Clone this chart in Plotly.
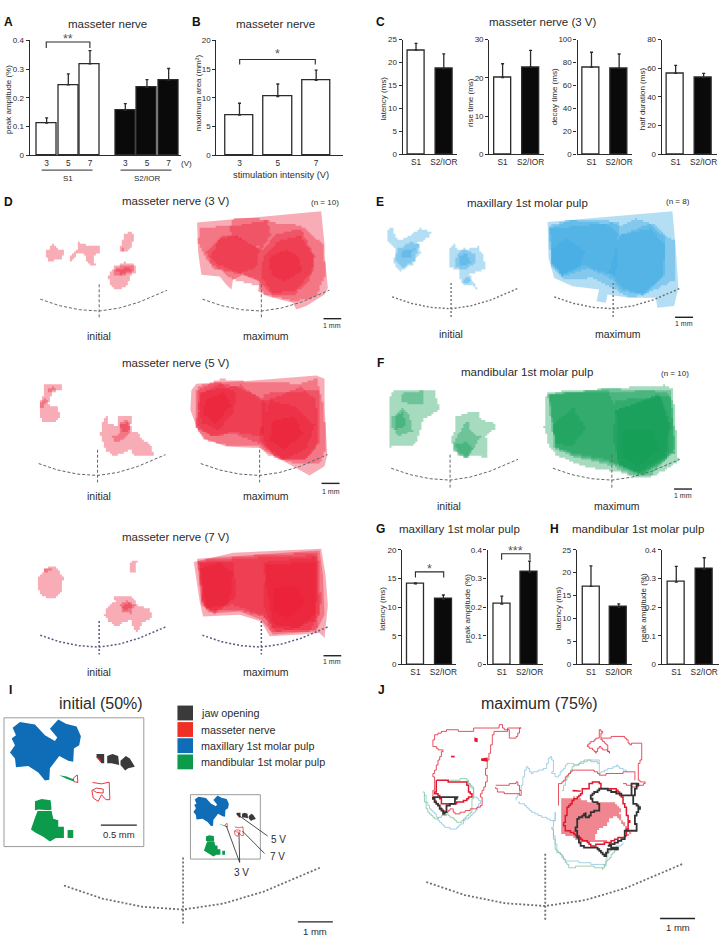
import plotly.graph_objects as go

W, H = 725, 944
RED = "rgba(235,25,50,0.36)"
BLUE = "rgba(55,168,225,0.38)"
GREEN = "rgba(12,155,80,0.36)"
INK = "#2b2b2b"

# bar data: values and upper error lengths
a_labels = ["3", "5", "7", "3", "5", "7"]
a_vals = [0.112, 0.245, 0.318, 0.156, 0.236, 0.262]
a_errs = [0.018, 0.038, 0.046, 0.024, 0.027, 0.040]
b_labels = ["3", "5", "7"]
b_vals = [7.0, 10.2, 13.05]
b_errs = [2.05, 2.2, 1.75]
pair_labels = ["S1", "S2/IOR"]
c1_vals = [22.7, 18.7]
c1_errs = [1.5, 3.2]
c2_vals = [20.1, 22.8]
c2_errs = [3.6, 4.4]
c3_vals = [76, 75]
c3_errs = [13, 12.5]
c4_vals = [56.5, 53.5]
c4_errs = [5.5, 3.0]
g1_vals = [14.05, 11.4]
g1_errs = [0.15, 0.7]
g2_vals = [0.21, 0.322]
g2_errs = [0.028, 0.038]
h1_vals = [17.0, 12.5]
h1_errs = [4.5, 0.7]
h2_vals = [0.287, 0.332]
h2_errs = [0.055, 0.04]

# outlines of the maps as (x, y) in 3x crop coordinates
D3_INIT = [
    [(140,175),(150,172),(155,158),(170,170),(190,180),(188,205),(150,208),(137,190)],
    [(208,190),(232,172),(232,152),(260,160),(298,165),(300,185),(282,192),(285,225),(262,208),(258,190),(235,185),(215,210)],
    [(360,175),(365,150),(375,125),(390,118),(403,130),(398,160),(385,178),(368,182)],
    [(325,250),(340,225),(370,212),(410,222),(405,245),(390,260),(385,285),(350,295),(330,275)],
    [(342,232),(370,222),(408,225),(400,240),(380,252),(345,252)],
    [(350,235),(385,228),(395,240),(365,250)],
    [(358,172),(378,168),(370,180)],
]
D3_MAX = [
    [(592,92),(815,72),(835,70),(965,58),(975,160),(975,190),(985,290),(975,310),(920,345),(890,355),(880,335),(805,315),(775,300),(780,270),(730,250),(700,265),(695,295),(680,280),(660,255),(605,250),(595,180)],
    [(600,110),(690,100),(700,78),(800,82),(830,95),(900,100),(970,160),(978,250),(950,320),(880,330),(800,310),(780,285),(700,265),(620,200),(595,150)],
    [(660,135),(700,130),(790,175),(820,130),(900,110),(945,200),(930,270),(890,310),(820,312),(780,270),(740,250),(640,230),(620,180)],
    [(690,105),(800,85),(815,130),(790,170),(700,130)],
    [(790,200),(830,150),(900,130),(940,190),(940,240),(890,300),(820,305),(785,250)],
    [(810,195),(860,175),(900,200),(905,240),(860,270),(815,250)],
    [(660,140),(700,130),(780,175),(770,230),(720,245),(660,220),(630,190)],
]
D5_INIT = [
    [(120,165),(135,105),(160,100),(185,105),(185,120),(160,125),(145,165),(170,170),(182,205),(165,215),(130,215),(118,190)],
    [(142,115),(160,108),(165,120),(150,128)],
    [(122,155),(132,143),(145,155),(135,172),(115,172)],
    [(305,215),(320,195),(325,220),(355,230),(355,195),(375,195),(400,195),(390,240),(420,255),(420,265),(455,295),(460,315),(405,320),(395,300),(350,320),(320,300),(310,275),(302,250)],
    [(335,260),(360,250),(360,215),(385,210),(395,240),(380,265),(350,280)],
    [(362,225),(382,215),(390,240),(375,250)],
]
D5_MAX = [
    [(590,100),(740,92),(950,75),(975,85),(975,170),(983,315),(975,350),(930,378),(880,350),(780,295),(680,290),(610,265),(590,230),(572,180),(575,120)],
    [(595,110),(660,85),(745,95),(900,100),(950,85),(972,170),(980,300),(960,340),(880,340),(820,320),(780,290),(700,290),(620,270),(590,230)],
    [(590,120),(650,95),(710,110),(800,150),(900,110),(950,150),(955,280),(920,330),(850,330),(780,280),(700,250),(640,260),(590,230)],
    [(600,125),(720,105),(800,160),(790,260),(700,245),(640,260),(595,225)],
    [(790,130),(960,120),(960,280),(920,330),(840,330),(780,270)],
    [(600,130),(660,100),(710,130),(700,190),(660,240),(610,220),(595,170)],
    [(810,150),(880,170),(945,230),(920,300),(850,330),(800,280),(785,240)],
    [(820,210),(880,200),(910,250),(860,300),(810,270)],
    [(620,150),(670,125),(695,170),(650,220),(610,190)],
]
D7_INIT = [
    [(115,685),(135,660),(165,655),(190,690),(185,730),(165,750),(130,745),(112,715)],
    [(135,660),(150,650),(158,668),(135,670)],
    [(390,640),(405,635),(415,630),(412,640),(405,670),(390,670)],
    [(320,780),(345,755),(340,742),(395,745),(410,770),(450,785),(458,810),(430,825),(415,850),(395,830),(395,815),(355,835),(325,815),(315,795)],
    [(360,770),(380,755),(405,775),(395,795),(370,790)],
    [(368,772),(382,762),(398,778),(378,788)],
]
D7_MAX = [
    [(582,640),(700,612),(965,600),(978,680),(985,770),(975,870),(960,855),(905,860),(810,865),(785,820),(720,800),(610,805),(600,760)],
    [(592,630),(830,615),(960,605),(970,680),(975,800),(950,850),(820,860),(785,815),(720,790),(640,795),(605,770)],
    [(596,635),(800,618),(955,612),(965,760),(950,845),(830,850),(795,805),(720,785),(625,790),(608,750)],
    [(600,640),(800,625),(950,620),(960,800),(930,850),(820,850),(790,800),(700,770),(620,780)],
    [(595,645),(700,640),(710,750),(650,790),(610,770)],
    [(790,640),(955,625),(950,800),(900,840),(820,830)],
    [(600,660),(660,640),(700,680),(690,760),(650,795),(610,770)],
    [(800,650),(950,640),(945,820),(880,845),(820,840),(790,760)],
    [(820,720),(880,710),(915,760),(870,810),(825,790)],
]
E_INIT = [
    [(85,115),(100,105),(105,130),(115,145),(150,130),(180,110),(215,125),(210,135),(175,155),(185,185),(160,220),(125,240),(100,210),(110,170),(85,145)],
    [(115,170),(150,150),(180,160),(165,210),(130,230),(105,205)],
    [(130,175),(165,170),(155,195),(125,200)],
    [(270,170),(280,155),(295,175),(330,170),(355,165),(370,190),(380,235),(330,250),(345,280),(355,293),(340,283),(320,280),(305,275),(300,235),(268,225),(268,205)],
    [(285,195),(310,170),(345,190),(350,215),(315,240),(285,220)],
    [(295,195),(320,185),(335,215),(305,225)],
    [(310,262),(330,258),(335,272),(315,278)],
]
E_MAX = [
    [(565,90),(940,58),(950,170),(958,290),(945,345),(895,350),(890,320),(810,320),(745,310),(740,335),(712,330),(720,295),(640,285),(585,260),(568,200)],
    [(570,100),(640,82),(735,82),(780,105),(830,80),(890,100),(920,130),(945,150),(945,270),(880,300),(820,320),(760,290),(700,260),(620,265),(575,220)],
    [(570,110),(630,85),(740,95),(780,130),(870,95),(920,140),(915,260),(860,310),(790,300),(760,265),(680,220),(610,250),(578,210)],
    [(572,110),(780,90),(770,250),(690,230),(610,255),(578,215)],
    [(575,170),(620,140),(680,180),(660,230),(610,250),(578,210)],
    [(780,130),(870,110),(920,160),(910,260),(850,310),(790,290),(750,240)],
]
F_INIT = [
    [(88,155),(100,120),(225,118),(240,180),(190,210),(185,240),(170,285),(90,292)],
    [(125,130),(190,120),(190,165),(150,160),(130,155)],
    [(95,200),(125,175),(150,200),(160,245),(120,258),(100,235)],
    [(105,195),(130,185),(140,230),(110,240)],
    [(290,200),(320,190),(355,185),(365,210),(410,222),(405,240),(380,260),(385,325),(345,315),(320,325),(285,305),(275,265),(290,230)],
    [(305,240),(325,200),(330,240),(365,265),(340,300),(330,325),(285,300),(280,280)],
    [(290,285),(320,275),(340,300),(325,325),(295,315)],
]
F_MAX = [
    [(560,135),(745,115),(910,105),(940,115),(950,220),(955,325),(960,335),(890,380),(835,385),(780,365),(720,360),(660,345),(590,315),(570,290),(555,230)],
    [(565,125),(750,115),(920,125),(940,160),(950,300),(880,375),(820,380),(770,350),(640,320),(585,295)],
    [(568,130),(935,120),(948,310),(860,375),(780,345),(640,315),(590,290)],
    [(770,150),(935,135),(945,310),(850,375),(775,340)],
    [(570,130),(745,118),(770,180),(900,130),(935,220),(925,330),(840,375),(780,350),(750,330),(640,310),(590,290)],
    [(770,180),(900,135),(930,230),(920,320),(840,370),(780,345),(760,260)],
    [(790,240),(880,240),(900,300),(840,350),(790,320)],
    [(580,220),(640,170),(680,240),(640,290),(590,280)],
]

I_BLUE = [(38,182),(60,165),(105,172),(135,205),(165,222),(172,212),(150,185),(175,157),(198,170),(230,178),(243,208),(238,235),(222,245),(220,285),(205,282),(178,268),(150,305),(148,340),(135,342),(115,318),(85,298),(48,302),(45,275),(30,257),(45,235),(35,215),(48,205)]
I_GREEN = [
    [(105,405),(125,398),(152,402),(155,430),(148,432),(115,430),(105,432)],
    [(113,434),(155,434),(160,458),(175,462),(175,482),(192,482),(192,516),(168,516),(150,527),(130,512),(107,500),(93,490),(105,455)],
    [(203,492),(220,492),(220,516),(203,516)],
    [(178,326),(200,330),(220,338),(222,345),(200,337)],
]
I_BLACK = [
    [(290,262),(313,262),(313,290),(305,290),(290,272)],
    [(322,268),(338,262),(355,268),(358,295),(335,290),(322,290)],
    [(362,282),(378,268),(390,275),(405,300),(385,305),(376,312),(362,295)],
]
I_RED_FILL = [(290,268),(305,282),(300,284)]
I_RED_LINES = [
    [(220,335),(232,325),(234,348),(222,345),(220,335)],
    [(278,348),(305,352),(328,347),(330,400),(318,400),(305,385),(295,405),(280,395),(276,372),(290,365),(310,368),(310,380),(290,378),(280,372)],
]

J_PINK = [(607,398),(640,392),(690,408),(760,408),(785,435),(780,445),(800,480),(815,505),(780,520),(720,530),(670,530),(640,512),(608,500)]
J_WHITE = [(715,490),(740,480),(750,455),(770,452),(800,490),(810,505),(780,520),(720,525),(705,525)]
J_RED_THIN = [
    [(225,205),(265,187),(335,195),(345,185),(388,182),(415,185),(420,175),(435,190),(445,185),(485,185),(472,212),(448,212),(448,190),(412,195),(400,210),(395,245),(388,275),(378,320),(385,340),(365,390),(370,420),(340,430),(290,445),(280,430),(262,440),(240,420),(222,390),(225,340),(222,320),(250,250),(220,235),(225,205)],
    [(408,358),(445,355),(475,345),(485,385),(440,380),(420,378),(408,360)],
    [(720,190),(733,192),(725,212),(790,210),(810,232),(845,228),(850,268),(838,300),(838,340),(857,352),(830,362),(790,350)],
    [(720,190),(718,212),(685,240),(710,262),(720,240),(750,258),(745,235),(725,212)],
    [(600,420),(600,350),(640,310),(700,310),(720,325),(770,320),(825,315),(825,340)],
]
J_BLUE = [
    [(195,380),(205,420),(225,445),(250,480),(285,490),(310,465),(345,440),(365,400),(345,385),(340,360),(320,340)],
    [(470,400),(490,350),(500,300),(515,320),(560,305),(565,285),(572,268),(582,285),(580,320),(590,330),(610,310),(625,290),(650,295),(690,280),(720,280),(720,320),(770,295),(800,315)],
    [(475,405),(500,425),(540,450),(585,465),(590,440),(580,490),(595,560),(620,585),(670,590),(740,600),(745,560),(790,530)],
]
J_GREEN = [
    [(192,378),(200,430),(225,460),(260,445),(300,470),(335,440),(345,360),(320,338),(265,340)],
    [(580,490),(590,550),(630,605),(690,600),(730,610),(745,580),(770,550)],
    [(610,370),(620,340),(640,300),(680,278),(720,290)],
]
J_RED_THICK = [
    [(615,470),(625,425),(640,400),(670,380),(670,365),(690,365),(690,350),(720,345),(725,365),(740,365),(775,370),(790,400),(800,430),(810,470),(800,510),(750,530),(700,540),(660,510),(620,490),(615,470)],
    [(230,340),(280,345),(320,345),(330,375),(340,392),(310,405),(290,410),(250,410),(240,385),(228,375),(230,340)],
]
J_BLACK = [
    [(700,405),(695,385),(720,365),(745,370),(785,385),(820,385),(815,352),(838,352),(825,385),(822,410),(843,428),(825,460),(835,495),(810,495),(795,495),(795,520),(770,530),(745,540),(775,548),(745,552),(740,570),(720,548),(680,545),(665,540),(650,490),(655,460),(680,440),(680,455),(695,440),(720,430),(722,410),(700,405)],
    [(220,392),(295,392),(285,412),(265,420),(258,445),(240,420),(220,392)],
]
J_RED_BITS = [
    [(345,212),(355,214),(355,226),(345,224)],
    [(275,267),(286,267),(286,272),(275,272)],
    [(365,275),(385,272),(385,285),(365,282)],
    [(640,370),(665,372),(665,376),(640,375)],
]

ARC_SHAPE = [(-59,-12),(-40,-5.5),(-20,-1.4),(0,0),(20,-3),(40,-9),(68,-21)]

fig = go.Figure()
layout_axes = {}
notes = []
axis_no = [1]


def note(x, y, text, size=8, color=INK, bold=False, angle=0, anchor="center"):
    if bold:
        text = f"<b>{text}</b>"
    notes.append(dict(x=x / W, y=1 - y / H, xref="paper", yref="paper", text=text, showarrow=False,
                      font=dict(family="Liberation Sans", size=size, color=color), textangle=angle,
                      xanchor=anchor, yanchor="middle"))


def page_line(xs, ys, color=INK, width=1.0, dash="solid"):
    fig.add_trace(go.Scatter(x=xs, y=ys, mode="lines", line=dict(color=color, width=width, dash=dash),
                             hoverinfo="skip", showlegend=False, xaxis="x", yaxis="y"))


def page_fill(xs, ys, color):
    fig.add_trace(go.Scatter(x=xs, y=ys, mode="lines", fill="toself", fillcolor=color, line=dict(width=0),
                             hoverinfo="skip", showlegend=False, xaxis="x", yaxis="y"))


def crop(points, ox, oy):
    return [ox + p[0] / 3 for p in points], [oy + p[1] / 3 for p in points]


def stairs(xs, ys, grid):
    # the maps are pixel images, so walk each edge along a coarse pixel grid
    out_x, out_y = [], []
    for i in range(len(xs) - 1):
        dx, dy = xs[i + 1] - xs[i], ys[i + 1] - ys[i]
        n = max(1, int(max(abs(dx), abs(dy)) / grid))
        for k in range(n + 1):
            sx = round((xs[i] + dx * k / n) / grid) * grid
            sy = round((ys[i] + dy * k / n) / grid) * grid
            if out_x and out_x[-1] != sx and out_y[-1] != sy:
                out_x.append(sx)
                out_y.append(out_y[-1])
            out_x.append(sx)
            out_y.append(sy)
    return out_x, out_y


def layers(polys, ox, oy, color, straight=0, grid=2.0):
    for i, p in enumerate(polys):
        xs, ys = crop(p + p[:1], ox, oy)
        if i >= straight:
            xs, ys = stairs(xs, ys, grid)
        page_fill(xs, ys, color)


def jag_line(points, color, width, grid=1.7):
    xs, ys = crop(points, 360, 670)
    xs, ys = stairs(xs, ys, grid)
    page_line(xs, ys, color, width)


def baseline(cx, cy, scale, top, bottom, color="#666", width=1.0, dash="3px,2px"):
    page_line([cx + p[0] * scale for p in ARC_SHAPE], [cy + p[1] * scale for p in ARC_SHAPE], color, width, dash)
    page_line([cx, cx], [top, bottom], color, width, dash)


def scale_bar(x0, x1, y, label, ty, size=7):
    page_line([x0, x1], [y, y], "#222", 1.4)
    note((x0 + x1) / 2, ty, label, size)


def bars(rect, first, step, width, slots, vals, errs, labels, fills, ymax, yticks):
    left, right, top, bottom = rect
    axis_no[0] += 1
    n = axis_no[0]
    xs = [(first - left) / step + s for s in slots]
    fig.add_trace(go.Bar(x=xs, y=vals, width=width / step, xaxis=f"x{n}", yaxis=f"y{n}",
                         marker=dict(color=fills, line=dict(color=INK, width=1.3)),
                         error_y=dict(type="data", symmetric=False, array=errs, arrayminus=[0] * len(errs),
                                      color=INK, thickness=1.3, width=1.5),
                         hoverinfo="skip", showlegend=False))
    layout_axes[f"xaxis{n}"] = dict(domain=[left / W, right / W], range=[0, (right - left) / step], anchor=f"y{n}",
                                    tickvals=xs, ticktext=labels, ticks="", showgrid=False, zeroline=False,
                                    showline=True, linecolor=INK, linewidth=1.3,
                                    tickfont=dict(family="Liberation Sans", size=8.3, color=INK))
    layout_axes[f"yaxis{n}"] = dict(domain=[1 - bottom / H, 1 - top / H], range=[0, ymax], anchor=f"x{n}",
                                    tickvals=yticks, ticktext=[str(t) for t in yticks], ticks="outside", ticklen=3,
                                    tickwidth=1.2, tickcolor=INK, showgrid=False, zeroline=False,
                                    showline=True, linecolor=INK, linewidth=1.3,
                                    tickfont=dict(family="Liberation Sans", size=8, color=INK))


def bracket(x0, x1, top, drop, star_y, stars_text):
    page_line([x0, x0, x1, x1], [drop, top, top, drop], INK, 1.1)
    note((x0 + x1) / 2, star_y + 2, stars_text, 12.5, "#555555")


WHITE_BLACK = ["white", "#0a0a0a"]
bars((29.7, 181.7, 36.7, 152.7), 46.7, 21.7, 20, [0, 1, 2, 3.63, 4.63, 5.63], a_vals, a_errs, a_labels,
     ["white"] * 3 + ["#0a0a0a"] * 3, 0.4, [0, 0.1, 0.2, 0.3, 0.4])
bars((216.7, 343, 36.7, 152.7), 239.8, 38.4, 28.5, [0, 1, 2], b_vals, b_errs, b_labels, ["white"] * 3, 20, [0, 5, 10, 15, 20])
bars((403.3, 458, 36, 151.7), 416.6, 27.8, 17, [0, 1], c1_vals, c1_errs, pair_labels, WHITE_BLACK, 25, [0, 5, 10, 15, 20, 25])
bars((490, 545, 36, 151.7), 503.3, 28, 17, [0, 1], c2_vals, c2_errs, pair_labels, WHITE_BLACK, 30, [0, 10, 20, 30])
bars((578.3, 633, 36, 151.7), 592.3, 27.7, 17, [0, 1], c3_vals, c3_errs, pair_labels, WHITE_BLACK, 100, [0, 20, 40, 60, 80, 100])
bars((662.7, 718, 36, 151.7), 676.6, 28, 17, [0, 1], c4_vals, c4_errs, pair_labels, WHITE_BLACK, 80, [0, 20, 40, 60, 80])
bars((402.7, 456.7, 551, 666.7), 416, 28, 17, [0, 1], g1_vals, g1_errs, pair_labels, WHITE_BLACK, 20, [0, 5, 10, 15, 20])
bars((488.3, 544, 551, 666.7), 502.5, 27.8, 17, [0, 1], g2_vals, g2_errs, pair_labels, WHITE_BLACK, 0.4, [0, 0.1, 0.2, 0.3, 0.4])
bars((577.7, 633, 551, 666.7), 591.8, 27.8, 17, [0, 1], h1_vals, h1_errs, pair_labels, WHITE_BLACK, 25, [0, 5, 10, 15, 20, 25])
bars((662.7, 720, 551, 666.7), 677.2, 28, 17, [0, 1], h2_vals, h2_errs, pair_labels, WHITE_BLACK, 0.4, [0, 0.1, 0.2, 0.3, 0.4])

bracket(46.3, 90, 38.3, 44.3, 33, "**")
bracket(240, 315.7, 56, 61, 48, "*")
bracket(416, 444.3, 573.3, 579, 568, "*")
bracket(502.3, 530.7, 555, 561, 550, "***")
page_line([41.7, 92.7], [167.7, 167.7], INK, 1)
page_line([120.7, 171.7], [167.7, 167.7], INK, 1)

# maps
layers(D3_INIT, 0, 190, RED)
layers(D3_MAX, 0, 190, RED, straight=1)
layers(D5_INIT, 0, 350, RED)
layers(D5_MAX, 0, 350, RED, straight=1)
layers(D7_INIT, 0, 350, RED)
layers(D7_MAX, 0, 350, RED, straight=2)
layers(E_INIT, 360, 190, BLUE)
layers(E_MAX, 360, 190, BLUE, straight=1)
layers(F_INIT, 360, 350, GREEN)
layers(F_MAX, 360, 350, GREEN)

baseline(99.3, 310, 1, 283, 317.7)
baseline(261.7, 310, 1, 283, 317.7)
baseline(97.7, 476, 1, 450, 483, "#5f6070")
baseline(260, 476, 1, 450, 483, "#5f6070")
baseline(99.3, 649.3, 1, 623, 656.7, "#5a5a85", 1.5, "2px,2px")
baseline(261.7, 649.3, 1, 623, 656.7, "#5a5a85", 1.5, "2px,2px")
baseline(451.7, 307.7, 1, 281.7, 316, "#707070", 1.4, "2px,2px")
baseline(614, 307.7, 1, 281.7, 316, "#707070", 1.4, "2px,2px")
baseline(450.7, 480.7, 1, 455, 489)
baseline(612.7, 480.7, 1, 455, 489)
baseline(183.3, 914.3, 2.02, 861.7, 929.3, "#707070", 1.8, "2px,2px")
baseline(546, 910.7, 2.02, 858, 926, "#707070", 1.8, "2px,2px")

scale_bar(324, 341.7, 317.7, "1 mm", 324.7)
scale_bar(322, 340, 484, "1 mm", 492.3)
scale_bar(324, 341.7, 658, "1 mm", 664)
scale_bar(676, 694, 316.3, "1 mm", 323)
scale_bar(675, 693, 489.7, "1 mm", 496)
scale_bar(101, 137, 829, "0.5 mm", 838, 9.5)
scale_bar(298.3, 333.3, 926.7, "1 mm", 936, 9.5)
scale_bar(661, 696, 923.3, "1 mm", 932.7, 9.5)


# panel I: the large inset and its half-size copy in the small box
def big(points):
    return crop(points, 0, 670)


def small(points):
    xs, ys = big(points)
    return [190.7 + (x - 4) * 0.5 for x in xs], [798.3 + (y - 720.7) * 0.5 for y in ys]


for mapper, w in ((big, 0.9), (small, 0.7)):
    page_fill(*mapper(I_BLUE + I_BLUE[:1]), "#0f6db8")
    for p in I_GREEN:
        page_fill(*mapper(p + p[:1]), "#0b9b4b")
    for p in I_BLACK:
        page_fill(*mapper(p + p[:1]), "#3a3a3a")
    page_fill(*mapper(I_RED_FILL + I_RED_FILL[:1]), "#ee3124")
    for p in I_RED_LINES:
        xs, ys = mapper(p)
        page_line(xs, ys, "#e8202e", w)

page_line([4, 144, 144, 4, 4], [720.7, 720.7, 850.7, 850.7, 720.7], "#9a9a9a", 1)
page_line([190.7, 260.7, 260.7, 190.7, 190.7], [798.3, 798.3, 863.3, 863.3, 798.3], "#9a9a9a", 1)

legend_names = ["jaw opening", "masseter nerve", "maxillary 1st molar pulp", "mandibular 1st molar pulp"]
legend_colors = ["#3a3a3a", "#ee3124", "#0f6db8", "#0b9b4b"]
legend_tops = [708.3, 725, 741.3, 757.7]
for name, col, t in zip(legend_names, legend_colors, legend_tops):
    page_fill([177.7, 193.3, 193.3, 177.7, 177.7], [t, t, t + 15, t + 15, t], col)
    note(199, t + 7.5, name, 10.8, anchor="left")

page_line([237, 268], [817.7, 840], "#222", 0.8)
page_line([242.7, 265], [835, 857.7], "#222", 0.8)
page_line([226.7, 240], [830, 866.7], "#222", 0.8)
page_line([239.3, 240], [836.7, 866.7], "#222", 0.8)
note(279, 843.7, "5 V", 10)
note(277.7, 861, "7 V", 10)
note(242.3, 877.3, "3 V", 10)

# panel J
xs, ys = crop(J_PINK + J_PINK[:1], 360, 670)
page_fill(*stairs(xs, ys, 2), "#ef8690")
xs, ys = crop(J_WHITE + J_WHITE[:1], 360, 670)
page_fill(*stairs(xs, ys, 2), "white")
for p in J_BLUE:
    jag_line(p, "#8fc3df", 0.8)
for p in J_GREEN:
    jag_line(p, "#7fc79b", 0.8)
for p in J_RED_THIN:
    jag_line(p, "#e0243a", 0.8)
for p in J_RED_THICK:
    jag_line(p, "#e0182d", 1.5)
for p in J_RED_BITS:
    xs, ys = crop(p + p[:1], 360, 670)
    page_fill(xs, ys, "#e0182d")
for p in J_BLACK:
    jag_line(p, "#333333", 1.8)

# text
for letter, lx, ly in [("A", 8.7, 18), ("B", 197, 18), ("C", 380.7, 18), ("D", 9, 200), ("E", 380.7, 200),
                       ("F", 380.7, 362.7), ("G", 380.7, 530), ("H", 555, 530), ("I", 11, 693), ("J", 382, 693)]:
    note(lx, ly, letter, 12, "#111", bold=True)

for tx, ty, text in [(108, 20.5, "masseter nerve"), (276, 20.5, "masseter nerve"), (544, 18, "masseter nerve (3 V)"),
                     (176.7, 199, "masseter nerve (3 V)"), (176.7, 362.7, "masseter nerve (5 V)"),
                     (176.7, 538, "masseter nerve (7 V)"), (528, 201, "maxillary 1st molar pulp"),
                     (528, 372, "mandibular 1st molar pulp"), (460, 530, "maxillary 1st molar pulp"),
                     (639, 530, "mandibular 1st molar pulp")]:
    note(tx, ty, text, 11.5)
note(101, 706, "initial (50%)", 16)
note(540, 706, "maximum (75%)", 16)
note(325, 200, "(n = 10)", 8)
note(679, 199, "(n = 8)", 8)
note(676, 372.7, "(n = 10)", 8)

for ix, mx, ty in [(99, 266.7, 335), (99, 266.7, 497), (99, 266.7, 674), (451.7, 619, 333), (450, 618, 506.7)]:
    note(ix, ty, "initial", 10.5)
    note(mx, ty, "maximum", 10.5)

for lx, ly, text in [(8, 96, "peak amplitude (%)"), (198.5, 90, "maximum area (mm²)"), (384, 95, "latency (ms)"),
                     (470.5, 99, "rise time (ms)"), (555, 94, "decay time (ms)"), (643, 96, "half duration (ms)"),
                     (383, 610, "latency (ms)"), (467.5, 610, "peak amplitude (%)"),
                     (559, 610, "latency (ms)"), (644, 610, "peak amplitude (%)")]:
    note(lx, ly, text, 8, angle=-90)

note(187, 161, "(V)", 8)
note(67.7, 175.7, "S1", 8)
note(147.7, 175.7, "S2/IOR", 8)
note(281, 173, "stimulation intensity (V)", 9.3)

fig.update_layout(
    width=W, height=H, margin=dict(l=0, r=0, t=0, b=0), paper_bgcolor="white", plot_bgcolor="rgba(0,0,0,0)",
    showlegend=False, annotations=notes, bargap=0,
    xaxis=dict(domain=[0, 1], range=[0, W], visible=False, fixedrange=True),
    yaxis=dict(domain=[0, 1], range=[H, 0], visible=False, fixedrange=True),
    **layout_axes,
)

fig.write_html("out.html", config={"displayModeBar": False},
               post_script="document.body.style.margin='0';document.body.style.overflow='hidden';")
